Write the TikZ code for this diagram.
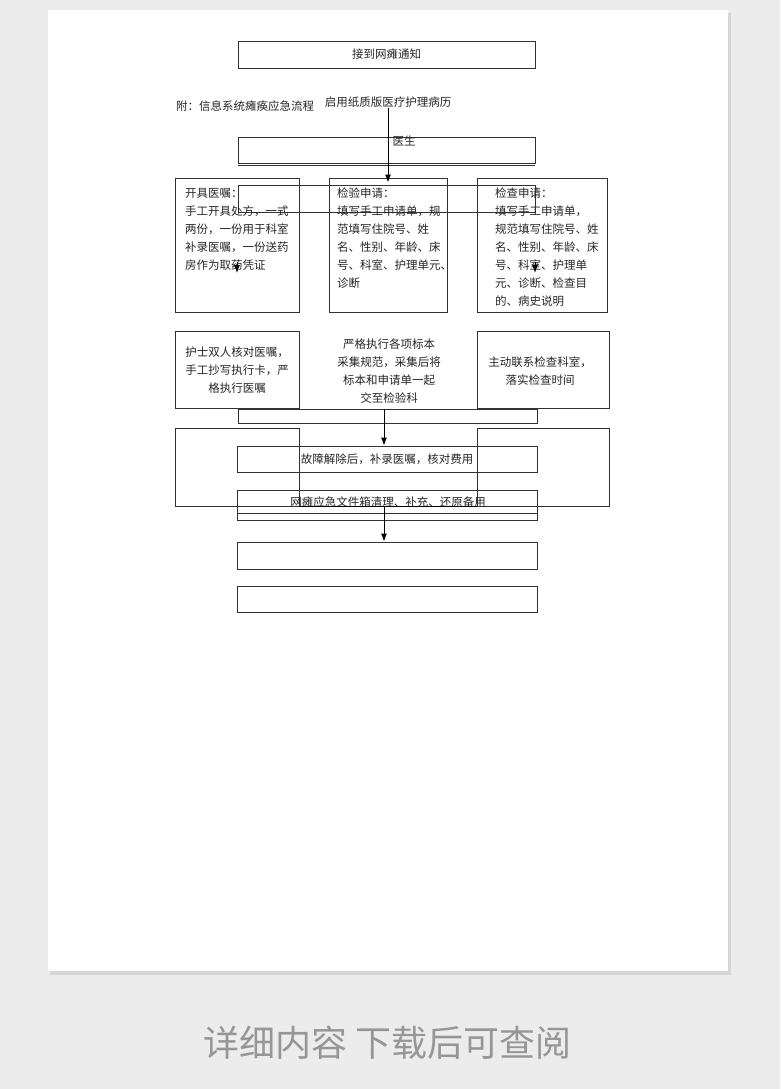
\documentclass[tikz,border=0pt]{standalone}
\usepackage{fontspec}
\newfontfamily\cjk{Noto Sans CJK SC}
\usetikzlibrary{positioning,calc,arrows.meta}
\definecolor{pagegray}{RGB}{236,236,236}
\definecolor{shadowgray}{RGB}{214,214,214}
\definecolor{linegray}{RGB}{50,50,50}
\definecolor{notegray}{RGB}{150,150,150}

\begin{document}
\begin{tikzpicture}
       [x=1pt,y=-1pt,
        box/.style={draw=linegray,line width=0.9pt,shape=rectangle,inner sep=0pt,
                    font=\cjk\fontsize{11.5}{18}\selectfont,text=black!85},
        label/.style={inner sep=0pt,text=black!85,
                      font=\cjk\fontsize{11.5}{18}\selectfont},
        flow/.style={draw=black,line width=1pt,-{Latex[length=8pt,width=6pt]}}]
  \useasboundingbox (0,0) rectangle (780,1089);
  % page and shadow
  \fill[pagegray] (0,0) rectangle (780,1089);
  \fill[shadowgray] (50,13) rectangle (731,975);
  \fill[white] (48,10) rectangle (728,971);

  % top part
  \node [box,minimum width=297pt,minimum height=27pt] (notice) at (386.5,54.5) {接到网瘫通知};
  \node [label,anchor=west] (appendix) at (176,106) {附：信息系统瘫痪应急流程};
  \node [label] (paper) at (388,102) {启用纸质版医疗护理病历};
  \node [box,minimum width=297pt,minimum height=26pt] (doctor) at (386.5,150) {};
  \node [label] (doctortext) at (404,141) {医生};
  \draw [linegray,line width=0.9pt] ([yshift=-2pt]doctor.south west) -- ([yshift=-2pt]doctor.south east);

  % three requests
  \node [box,minimum width=124pt,minimum height=134pt] (order) at (237,245) {};
  \node [box,minimum width=118pt,minimum height=134pt] (lab) at (388,245) {};
  \node [box,minimum width=130pt,minimum height=134pt] (exam) at (542,245) {};
  \node [box,minimum width=297pt,minimum height=27pt] (overlay1) at (386.5,198.5) {};
  \node [label,anchor=north west,align=left] (ordertext) at (185,188)
        {开具医嘱：\\手工开具处方，一式\\两份，一份用于科室\\补录医嘱，一份送药\\房作为取药凭证};
  \node [label,anchor=north west,align=left] (labtext) at (337,188)
        {检验申请：\\填写手工申请单，规\\范填写住院号、姓\\名、性别、年龄、床\\号、科室、护理单元、\\诊断};
  \node [label,anchor=north west,align=left] (examtext) at (495,188)
        {检查申请：\\填写手工申请单，\\规范填写住院号、姓\\名、性别、年龄、床\\号、科室、护理单\\元、诊断、检查目\\的、病史说明};
  \coordinate (ordertip) at (237,273);
  \coordinate (examtip) at (535,273);

  % second row
  \node [box,minimum width=124pt,minimum height=77pt] (nurse) at (237,369.5) {};
  \node [label,align=center] (nursetext) at (237,370.5) {护士双人核对医嘱，\\手工抄写执行卡，严\\格执行医嘱};
  \node [label,align=center] (sample) at (389,371) {严格执行各项标本\\采集规范，采集后将\\标本和申请单一起\\交至检验科};
  \node [box,minimum width=132pt,minimum height=77pt] (contact) at (543,369.5) {};
  \node [label,align=center] (contacttext) at (540,371.5) {主动联系检查科室，\\落实检查时间};
  \node [box,minimum width=299pt,minimum height=14pt] (overlay2) at (387.5,416) {};

  % lower part
  \node [box,minimum width=124pt,minimum height=78pt] (lowleft) at (237,467) {};
  \node [box,minimum width=132pt,minimum height=78pt] (lowright) at (543,467) {};
  \node [box,minimum width=300pt,minimum height=26pt] (fix) at (387,459) {故障解除后，补录医嘱，核对费用};
  \node [box,minimum width=300pt,minimum height=30pt] (clean) at (387,505) {};
  \node [label] (cleantext) at (388,502) {网瘫应急文件箱清理、补充、还原备用};
  \draw [black,line width=1.2pt] (lowleft.south east) -- (lowright.south west);
  \draw [linegray,line width=0.9pt] ([yshift=7pt]clean.south west) -- ([yshift=7pt]clean.south east);
  \node [box,minimum width=300pt,minimum height=27pt] (empty1) at (387,555.5) {};
  \node [box,minimum width=300pt,minimum height=26pt] (empty2) at (387,599) {};
  \coordinate (cleanout) at (384,506);

  % connectors
  \draw [flow] (paper.south) -- ([yshift=-5pt]lab.north);
  \draw [flow] ([yshift=11pt]ordertip) -- (ordertip);
  \draw [flow] ([yshift=11pt]examtip) -- (examtip);
  \draw [flow] ([xshift=-3.5pt]overlay2.north) -- (fix.north -| cleanout);
  \draw [flow] (cleanout) -- (empty1.north -| cleanout);

  % note below the page
  \node [text=notegray,font=\cjk\fontsize{36}{36}\selectfont] (readmore) at (388,1043) {详细内容 下载后可查阅};
\end{tikzpicture}
\end{document}
